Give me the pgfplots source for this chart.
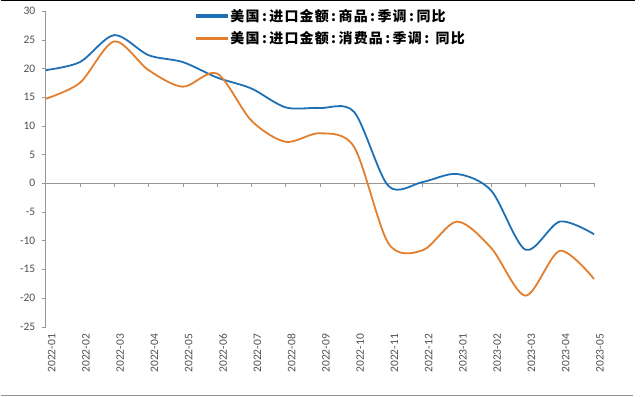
\documentclass[border=0pt]{standalone}
\usepackage{fontspec}
\setmainfont{Carlito}
\newfontfamily\cjk[LetterSpace=8]{Noto Sans CJK SC}
\usepackage{pgfplots}
\pgfplotsset{compat=1.18}
\definecolor{cblue}{RGB}{30,112,180}
\definecolor{corange}{RGB}{226,126,44}
\definecolor{tickgray}{RGB}{80,80,80}
\definecolor{axgray}{RGB}{150,150,150}
\newcommand\cl{\kern2.5bp:\kern2.5bp}
\begin{document}
\begin{tikzpicture}
\begin{axis}[
  name=ax,
  scale only axis,
  width=549bp, height=316bp,
  xmin=0, xmax=16, ymin=-25, ymax=30,
  axis lines*=left,
  x axis line style={draw=none},
  y axis line style={draw=axgray},
  xtick={0,...,16},
  xticklabels={2022-01,2022-02,2022-03,2022-04,2022-05,2022-06,2022-07,2022-08,2022-09,2022-10,2022-11,2022-12,2023-01,2023-02,2023-03,2023-04,2023-05},
  xtick style={draw=none},
  xticklabel style={rotate=90, anchor=east, yshift=-6bp, font=\fontsize{11.5bp}{12bp}\selectfont, text=tickgray},
  ytick={-25,-20,...,30},
  ytick style={draw=axgray},
  tick align=outside,
  major tick length=4bp,
  yticklabel style={font=\fontsize{11.5bp}{12bp}\selectfont, text=tickgray, xshift=-3bp},
  /pgf/number format/assume math mode=true,
  clip=false,
  legend style={draw=none, fill=none, at={(axis description cs:0,1)}, anchor=north west, xshift=150bp, yshift=4bp,
    font=\cjk\bfseries\fontsize{14bp}{15bp}\selectfont, row sep=5bp, inner sep=0pt, cells={anchor=west}},
  legend image code/.code={\fill[#1] (0bp,-0.9bp) rectangle (31bp,0.9bp);},
]
\draw[axgray] (axis cs:0,0) -- (axis cs:16,0);
\pgfplotsinvokeforeach{1,...,16}{\draw[axgray] (axis cs:#1,0) -- ([yshift=-4bp]axis cs:#1,0);}
\addplot[cblue, line width=1.8bp, smooth] coordinates {
(0,19.7) (1,21.1) (2,25.8) (3,22.3) (4,21.1) (5,18.4) (6,16.5) (7,13.2) (8,13.1) (9,12.4) (10,-0.5) (11,0.2) (12,1.6) (13,-1.3) (14,-11.6) (15,-6.7) (16,-8.9)
};
\addlegendentry{美国\cl 进口金额\cl 商品\cl 季调\cl 同比}
\addplot[corange, line width=1.8bp, smooth] coordinates {
(0,14.7) (1,17.5) (2,24.7) (3,19.7) (4,16.8) (5,19.1) (6,10.9) (7,7.2) (8,8.7) (9,6.3) (10,-10.5) (11,-11.7) (12,-6.7) (13,-11.3) (14,-19.6) (15,-11.8) (16,-16.7)
};
\addlegendentry{美国\cl 进口金额\cl 消费品\cl 季调\cl\kern4bp 同比}
\end{axis}
\path ([xshift=-45bp,yshift=-70bp]ax.south west) rectangle ++(640bp,397bp);
\draw[black, line width=1.5bp] ([xshift=-45bp,yshift=10.25bp]ax.north west) -- ++(635bp,0);
\draw[axgray, line width=1bp] ([xshift=-45bp,yshift=-69bp]ax.south west) -- ++(633bp,0);
\end{tikzpicture}
\end{document}
